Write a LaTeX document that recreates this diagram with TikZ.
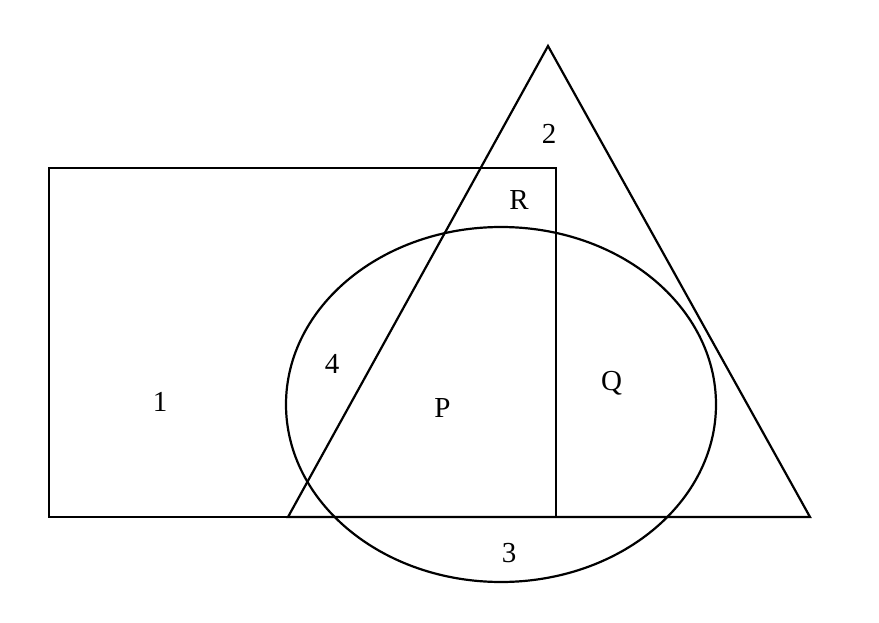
\documentclass[tikz,border=0pt]{standalone}
\usepackage{fontspec}
\setmainfont{Liberation Serif}
\usetikzlibrary{calc}

\begin{document}
\begin{tikzpicture}[x=1pt,y=-1pt,every node/.style={draw=none,inner sep=0pt}]
				\tikzstyle{outline}=[line width=2.2pt,black]
				\tikzstyle{region}=[anchor=base,font=\fontsize{29}{34}\selectfont]
				
				\useasboundingbox (0,0) rectangle (879,623);										% Rahmen
				
				\coordinate (A) at (548,46);												% Spitze Dreieck
				\coordinate (B) at (288,517);
				\coordinate (C) at (810,517);
				
				\draw [outline] (49,168) rectangle (556,517);								% Rechteck
				\draw [outline] (A) -- (B) -- (C) -- cycle;									% Dreieck
				\draw [outline] (501,404.5) ellipse [x radius=215, y radius=177.5];				% Ellipse
				
				\node (n1) [region] at (160,411) {1};
				\node (n2) [region] at (549,143.3) {2};
				\node (n3) [region] at (509,562.7) {3};
				\node (n4) [region] at (332,373.3) {4};
				\node (nP) [region] at (442.5,417.3) {P};
				\node (nQ) [region] at (611.5,390.7) {Q};
				\node (nR) [region] at (519,209.3) {R};
				\end{tikzpicture}
\end{document}
